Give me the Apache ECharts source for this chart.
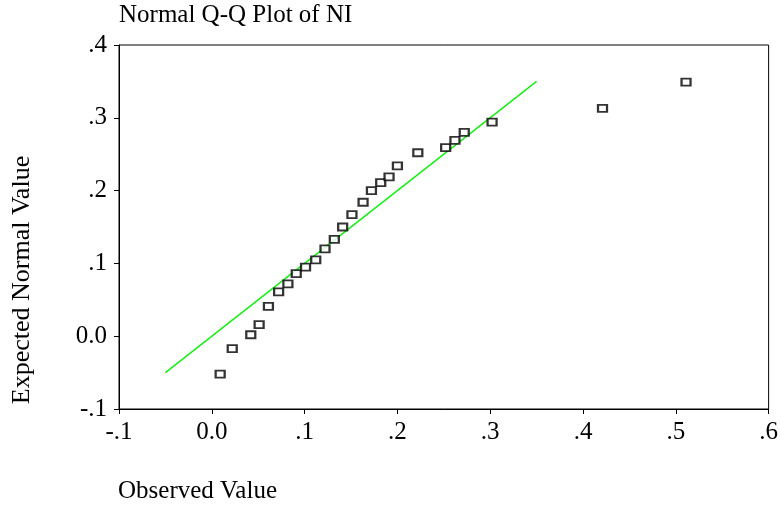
<!DOCTYPE html>
<html>
<head>
<meta charset="utf-8">
<script src="https://cdn.jsdelivr.net/npm/echarts@6/dist/echarts.min.js"></script>
<style>html,body{margin:0;padding:0;background:#fff;}#chart{width:781px;height:510px;}</style>
</head>
<body>
<div id="chart"></div>
<script>
const titleText = "Normal Q-Q Plot of NI";
const xTitle = "Observed Value";
const yTitle = "Expected Normal Value";
const observed = [0.009, 0.022, 0.042, 0.051, 0.061, 0.072, 0.082, 0.091, 0.101, 0.112, 0.122, 0.132, 0.141, 0.151, 0.163, 0.172, 0.182, 0.191, 0.200, 0.222, 0.252, 0.262, 0.272, 0.302, 0.421, 0.511];
const expected = [-0.052, -0.017, 0.002, 0.016, 0.041, 0.061, 0.072, 0.086, 0.095, 0.105, 0.120, 0.133, 0.150, 0.167, 0.184, 0.200, 0.211, 0.219, 0.234, 0.252, 0.259, 0.269, 0.280, 0.294, 0.313, 0.349];
const refLineX = [-0.05, 0.35];
const refLineY = [-0.05, 0.35];

const font = "'Liberation Serif', 'Times New Roman', serif";
function fmt(v) {
  if (Math.abs(v) < 1e-9) return '0.0';
  let s = v.toFixed(1);
  return s.replace('0.', '.');
}
const chart = echarts.init(document.getElementById('chart'));
chart.setOption({
  backgroundColor: '#fff',
  animation: false,
  textStyle: { fontFamily: font },
  grid: { left: 119, right: 9, top: 45, bottom: 101, show: true, borderColor: '#000', borderWidth: 1, backgroundColor: 'transparent' },
  xAxis: {
    type: 'value', min: -0.1, max: 0.6, interval: 0.1,
    axisLine: { show: true, onZero: false, lineStyle: { color: '#000', width: 1 } },
    axisTick: { show: true, inside: false, length: 5, lineStyle: { color: '#000' } },
    axisLabel: { formatter: fmt, color: '#000', fontFamily: font, fontSize: 25, margin: 11 },
    splitLine: { show: false }
  },
  yAxis: {
    type: 'value', min: -0.1, max: 0.4, interval: 0.1,
    axisLine: { show: true, onZero: false, lineStyle: { color: '#000', width: 1 } },
    axisTick: { show: true, inside: false, length: 5, lineStyle: { color: '#000' } },
    axisLabel: { formatter: fmt, color: '#000', fontFamily: font, fontSize: 25, margin: 12 },
    splitLine: { show: false }
  },
  graphic: [
    { type: 'text', left: 119, top: 3, style: { text: titleText, font: "25px 'Liberation Serif', serif", fill: '#000' } },
    { type: 'text', left: 118, top: 479, style: { text: xTitle, font: "25px 'Liberation Serif', serif", fill: '#000' } },
    { type: 'text', x: 22, y: 280, rotation: Math.PI / 2, style: { text: yTitle, font: "26px 'Liberation Serif', serif", fill: '#000', textAlign: 'center', textVerticalAlign: 'middle' } }
  ],
  series: [
    {
      type: 'line', data: refLineX.map((x, i) => [x, refLineY[i]]), symbol: 'none',
      lineStyle: { color: '#14f014', width: 1.5 }, z: 2
    },
    {
      type: 'scatter', data: observed.map((x, i) => [x, expected[i]]),
      symbol: 'rect', symbolSize: [9, 7],
      itemStyle: { color: '#fff', borderColor: '#000', borderWidth: 2 }, z: 3
    }
  ]
});
</script>
</body>
</html>
